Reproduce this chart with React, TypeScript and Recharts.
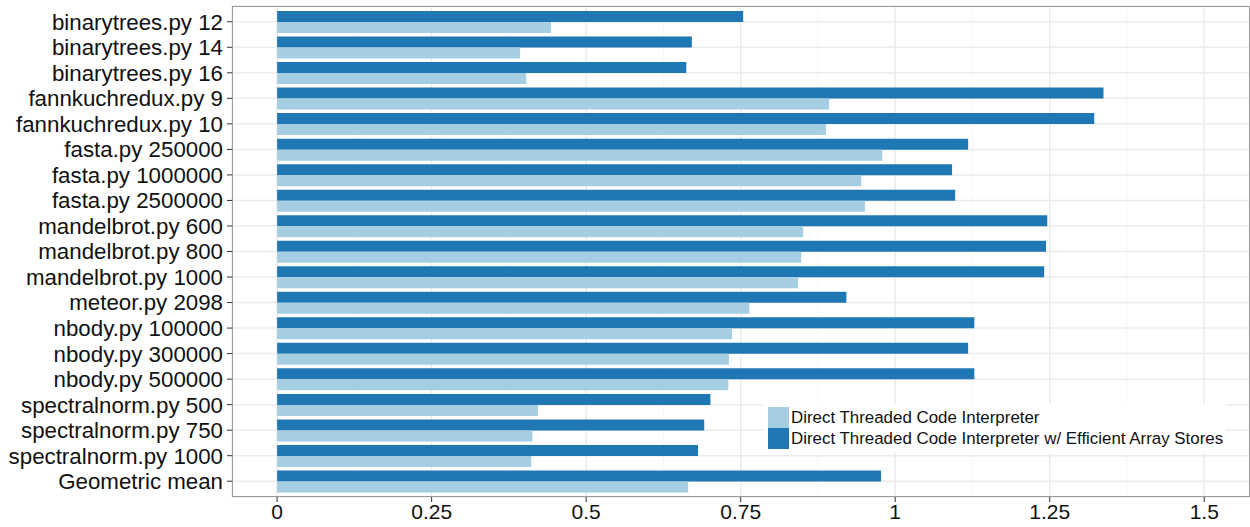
import { BarChart, Bar, XAxis, YAxis, CartesianGrid } from 'recharts';

// Benchmarks, top to bottom
const benchmarks = [
  'binarytrees.py 12',
  'binarytrees.py 14',
  'binarytrees.py 16',
  'fannkuchredux.py 9',
  'fannkuchredux.py 10',
  'fasta.py 250000',
  'fasta.py 1000000',
  'fasta.py 2500000',
  'mandelbrot.py 600',
  'mandelbrot.py 800',
  'mandelbrot.py 1000',
  'meteor.py 2098',
  'nbody.py 100000',
  'nbody.py 300000',
  'nbody.py 500000',
  'spectralnorm.py 500',
  'spectralnorm.py 750',
  'spectralnorm.py 1000',
  'Geometric mean',
];

const directThreaded = [
  0.443, 0.393, 0.403, 0.893, 0.888, 0.979, 0.945, 0.951, 0.851, 0.848, 0.843,
  0.764, 0.736, 0.731, 0.73, 0.422, 0.413, 0.411, 0.665,
];

const efficientStores = [
  0.754, 0.671, 0.662, 1.337, 1.322, 1.118, 1.092, 1.097, 1.246, 1.244, 1.241,
  0.921, 1.128, 1.118, 1.128, 0.701, 0.691, 0.681, 0.977,
];

const seriesNames = [
  'Direct Threaded Code Interpreter',
  'Direct Threaded Code Interpreter w/ Efficient Array Stores',
];

const xTicks = [0, 0.25, 0.5, 0.75, 1, 1.25, 1.5];
const minorTicks = [0.125, 0.375, 0.625, 0.875, 1.125, 1.375];
const xDomain = [-0.073, 1.574];

const LIGHT = '#a6cee3';
const DARK = '#1f78b4';
const FONT = '"Liberation Sans", Arial, Helvetica, sans-serif';

const data = benchmarks.map((name, i) => ({
  name,
  dtci: directThreaded[i],
  efficient: efficientStores[i],
}));

export default function App() {
  return (
    <div
      style={{
        position: 'absolute',
        left: 0,
        top: 0,
        width: 1250,
        height: 527,
        background: '#fff',
        fontFamily: FONT,
      }}
    >
      <BarChart
        layout="vertical"
        width={1250}
        height={527}
        data={data}
        margin={{ top: 6, right: 0, left: 0, bottom: 0 }}
        barCategoryGap={2}
        barGap={0}
      >
        <CartesianGrid
          xAxisId="minor"
          horizontal={false}
          stroke="#f7f7f7"
          strokeWidth={1}
        />
        <CartesianGrid stroke="#ebebeb" strokeWidth={1.5} />
        <XAxis
          type="number"
          domain={xDomain}
          ticks={xTicks}
          allowDataOverflow
          height={30}
          axisLine={false}
          tickSize={5}
          tickMargin={2}
          tickLine={{ stroke: '#333' }}
          tick={{ fill: '#111', fontSize: 21, fontFamily: FONT }}
        />
        <XAxis
          xAxisId="minor"
          type="number"
          domain={xDomain}
          ticks={minorTicks}
          allowDataOverflow
          hide
        />
        <YAxis
          type="category"
          dataKey="name"
          width={232}
          interval={0}
          padding={{ top: 3, bottom: 3 }}
          axisLine={false}
          tickSize={5}
          tickMargin={4}
          tickLine={{ stroke: '#333' }}
          tick={{ fill: '#111', fontSize: 22.3, fontFamily: FONT }}
        />
        <Bar dataKey="efficient" name={seriesNames[1]} fill={DARK} isAnimationActive={false} />
        <Bar dataKey="dtci" name={seriesNames[0]} fill={LIGHT} isAnimationActive={false} />
      </BarChart>

      {/* panel border */}
      <div
        style={{
          position: 'absolute',
          left: 232,
          top: 6,
          width: 1018,
          height: 491,
          border: '1px solid #9a9a9a',
          boxSizing: 'border-box',
          pointerEvents: 'none',
        }}
      />

      {/* legend */}
      <div
        style={{
          position: 'absolute',
          left: 763,
          top: 404,
          width: 463,
          height: 49,
          background: '#fff',
          padding: '3px 0 0 5px',
          boxSizing: 'border-box',
        }}
      >
        {[LIGHT, DARK].map((color, i) => (
          <div key={i} style={{ display: 'flex', alignItems: 'center', height: 21 }}>
            <div style={{ width: 21, height: 21, background: color }} />
            <span style={{ marginLeft: 2, fontSize: 16.9, color: '#111', whiteSpace: 'nowrap' }}>
              {seriesNames[i]}
            </span>
          </div>
        ))}
      </div>
    </div>
  );
}
